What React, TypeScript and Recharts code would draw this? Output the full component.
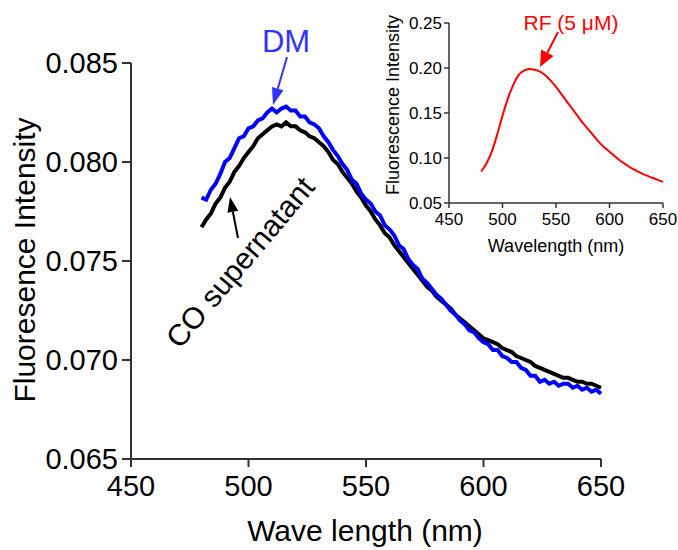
import { LineChart, Line, XAxis, YAxis } from "recharts";

const FONT = '"Liberation Sans", Arial, sans-serif';

// main chart: emission of the two samples
const wavelengths = [
  480, 482, 484, 486, 488, 490, 492, 494, 496, 498, 500, 502, 504, 506, 508, 510, 512, 514, 516, 518,
  520, 522, 524, 526, 528, 530, 532, 534, 536, 538, 540, 542, 544, 546, 548, 550, 552, 554, 556, 558,
  560, 562, 564, 566, 568, 570, 572, 574, 576, 578, 580, 582, 584, 586, 588, 590, 592, 594, 596, 598,
  600, 602, 604, 606, 608, 610, 612, 614, 616, 618, 620, 622, 624, 626, 628, 630, 632, 634, 636, 638,
  640, 642, 644, 646, 648, 650,
];

const dmValues = [
  0.0782, 0.0781, 0.0786, 0.0789, 0.0794, 0.08, 0.0802, 0.0807, 0.0812, 0.0813, 0.0817, 0.0818, 0.0821, 0.0822, 0.0825, 0.0827, 0.0825, 0.0827, 0.0828, 0.0826,
  0.0826, 0.0823, 0.0823, 0.082, 0.0819, 0.0817, 0.0813, 0.081, 0.0806, 0.0803, 0.0799, 0.0796, 0.0791, 0.0789, 0.0784, 0.0781, 0.0779, 0.0775, 0.0773, 0.0768,
  0.0766, 0.0763, 0.0758, 0.0756, 0.0751, 0.0748, 0.0746, 0.0741, 0.0739, 0.0736, 0.0733, 0.0731, 0.0728, 0.0725, 0.0723, 0.072, 0.0718, 0.0715, 0.0714, 0.0711,
  0.0709, 0.0708, 0.0705, 0.0705, 0.0702, 0.0701, 0.0699, 0.0699, 0.0696, 0.0695, 0.0692, 0.0692, 0.0689, 0.069, 0.0688, 0.0689, 0.0687, 0.0688, 0.0688, 0.0686,
  0.0687, 0.0685, 0.0686, 0.0684, 0.0685, 0.0683,
];

const coValues = [
  0.0767, 0.0771, 0.0774, 0.0779, 0.0782, 0.0787, 0.079, 0.0795, 0.0798, 0.0802, 0.0805, 0.0808, 0.0812, 0.0814, 0.0816, 0.0818, 0.0819, 0.0818, 0.082, 0.0818,
  0.0818, 0.0816, 0.0815, 0.0813, 0.0812, 0.081, 0.0808, 0.0805, 0.0801, 0.0799, 0.0795, 0.0792, 0.0789, 0.0785, 0.0782, 0.0778, 0.0775, 0.0771, 0.0768, 0.0764,
  0.0762, 0.0758, 0.0755, 0.0752, 0.0749, 0.0746, 0.0743, 0.074, 0.0737, 0.0735, 0.0732, 0.073, 0.0728, 0.0726, 0.0723, 0.0721, 0.0719, 0.0717, 0.0715, 0.0713,
  0.0711, 0.071, 0.0709, 0.0708, 0.0706, 0.0705, 0.0704, 0.0702, 0.0701, 0.07, 0.0699, 0.0697, 0.0696, 0.0695, 0.0694, 0.0693, 0.0692, 0.0691, 0.0691, 0.069,
  0.0689, 0.0689, 0.0688, 0.0688, 0.0687, 0.0686,
];

const xTicks = [450, 500, 550, 600, 650];
const yTicks = [0.065, 0.07, 0.075, 0.08, 0.085];

// inset: riboflavin reference
const rfWavelengths = [
  480, 485, 490, 495, 500, 505, 510, 515, 520, 525, 530, 535, 540, 545, 550, 555, 560, 565,
  570, 575, 580, 585, 590, 595, 600, 605, 610, 615, 620, 625, 630, 635, 640, 645, 650,
];
const rfValues = [
  0.085, 0.094, 0.107, 0.126, 0.147, 0.166, 0.181, 0.192, 0.197, 0.199, 0.198, 0.196, 0.192, 0.186, 0.179, 0.171, 0.163, 0.155,
  0.147, 0.139, 0.132, 0.125, 0.118, 0.112, 0.107, 0.102, 0.097, 0.093, 0.089, 0.086, 0.083, 0.0805, 0.078, 0.0757, 0.0735,
];
const insetYTicks = [0.05, 0.1, 0.15, 0.2, 0.25];

const mainData = wavelengths.map((w, i) => ({ wl: w, dm: dmValues[i], co: coValues[i] }));
const rfData = rfWavelengths.map((w, i) => ({ wl: w, rf: rfValues[i] }));

function Arrow({ x1, y1, x2, y2, color, head = 16, width = 12, sw = 2 }: any) {
  const dx = x2 - x1;
  const dy = y2 - y1;
  const len = Math.sqrt(dx * dx + dy * dy);
  const ux = dx / len;
  const uy = dy / len;
  const bx = x2 - ux * head;
  const by = y2 - uy * head;
  const px = -uy * (width / 2);
  const py = ux * (width / 2);
  return (
    <g>
      <line x1={x1} y1={y1} x2={bx} y2={by} stroke={color} strokeWidth={sw} />
      <polygon points={`${x2},${y2} ${bx + px},${by + py} ${bx - px},${by - py}`} fill={color} />
    </g>
  );
}

export default function App() {
  return (
    <div style={{ position: "fixed", left: 0, top: 0, width: 678, height: 550, background: "#fff", fontFamily: FONT }}>
      <LineChart width={678} height={550} data={mainData} margin={{ top: 63, right: 77, bottom: 61, left: 51 }}>
        <XAxis
          dataKey="wl"
          type="number"
          domain={[450, 650]}
          ticks={xTicks}
          height={30}
          tickSize={8}
          tickMargin={8}
          stroke="#333"
          strokeWidth={2}
          tick={{ fontSize: 29, fill: "#000", fontFamily: FONT }}
        />
        <YAxis
          type="number"
          domain={[0.065, 0.085]}
          ticks={yTicks}
          width={80}
          tickSize={9}
          tickMargin={4}
          stroke="#333"
          strokeWidth={2}
          allowDataOverflow
          tickFormatter={(v: number) => v.toFixed(3)}
          tick={{ fontSize: 29, fill: "#000", fontFamily: FONT }}
        />
        <Line dataKey="co" stroke="#000000" strokeWidth={4} dot={false} type="linear" isAnimationActive={false} />
        <Line dataKey="dm" stroke="#0000ff" strokeWidth={4} dot={false} type="linear" isAnimationActive={false} />
      </LineChart>

      <div style={{ position: "absolute", left: 340, top: 0 }}>
        <LineChart width={338} height={270} data={rfData} margin={{ top: 23, right: 15, bottom: 42, left: 49 }}>
          <XAxis
            dataKey="wl"
            type="number"
            domain={[450, 650]}
            ticks={xTicks}
            height={25}
            tickSize={5}
            tickMargin={5}
            stroke="#333"
            strokeWidth={1.5}
            tick={{ fontSize: 17, fill: "#000", fontFamily: FONT }}
          />
          <YAxis
            type="number"
            domain={[0.05, 0.25]}
            ticks={insetYTicks}
            width={60}
            tickSize={5}
            tickMargin={2}
            stroke="#333"
            strokeWidth={1.5}
            tickFormatter={(v: number) => v.toFixed(2)}
            tick={{ fontSize: 17, fill: "#000", fontFamily: FONT }}
          />
          <Line dataKey="rf" stroke="#ff0000" strokeWidth={2} dot={false} type="monotone" isAnimationActive={false} />
        </LineChart>
      </div>

      <svg width={678} height={550} style={{ position: "absolute", left: 0, top: 0, pointerEvents: "none" }}>
        <text transform="translate(35,260) rotate(-90)" textAnchor="middle" fontSize={30} fontFamily={FONT} fill="#000">
          Fluoresence Intensity
        </text>
        <text x={365} y={541} textAnchor="middle" fontSize={30} fontFamily={FONT} fill="#000">
          Wave length (nm)
        </text>
        <text x={286} y={52} textAnchor="middle" fontSize={31} fontFamily={FONT} fill="#3333ff">
          DM
        </text>
        <Arrow x1={287} y1={57} x2={273} y2={105} color="#3333ff" head={17} width={12} />
        <text transform="translate(248,269) rotate(-50)" textAnchor="middle" fontSize={30} fontFamily={FONT} fill="#000">
          CO supernatant
        </text>
        <Arrow x1={238} y1={238} x2={230} y2={197} color="#000" head={15} width={11} />

        <text x={571} y={30} textAnchor="middle" fontSize={21} fontFamily={FONT} fill="#ff0000">
          RF (5 μM)
        </text>
        <Arrow x1={558} y1={32} x2={540} y2={67} color="#ff0000" head={16} width={14} />
        <text transform="translate(399,105) rotate(-90)" textAnchor="middle" fontSize={18} fontFamily={FONT} fill="#000">
          Fluorescence Intensity
        </text>
        <text x={556} y={252} textAnchor="middle" fontSize={18} fontFamily={FONT} fill="#000">
          Wavelength (nm)
        </text>
      </svg>
    </div>
  );
}
